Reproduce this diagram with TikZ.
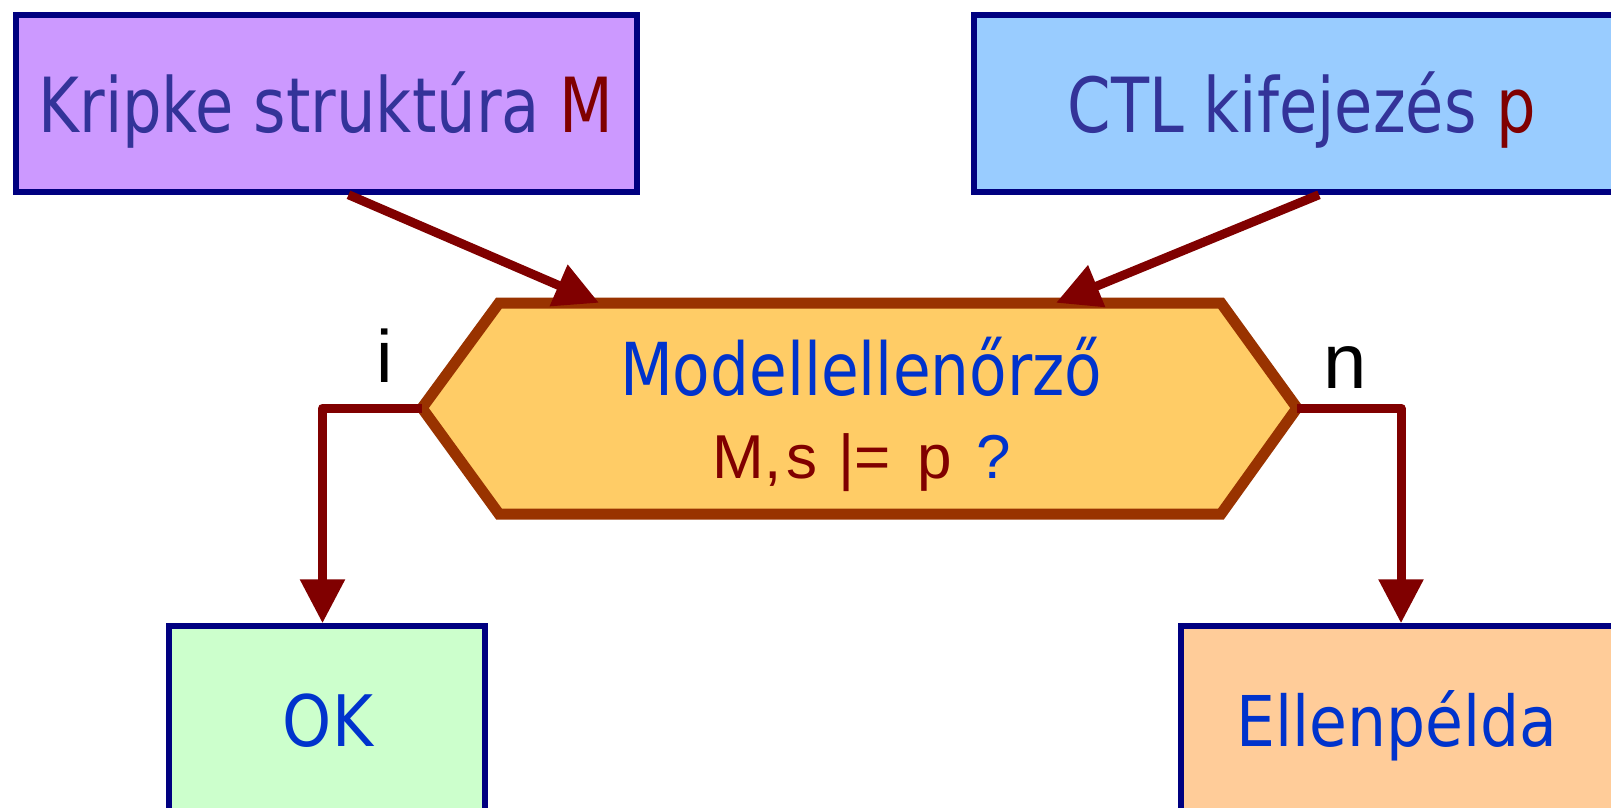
\documentclass[tikz,border=0pt]{standalone}
\usepackage{fontspec}
\newfontfamily\tah[FakeStretch=0.88]{DejaVu Sans}
\newfontfamily\tahtop[FakeStretch=0.82]{DejaVu Sans}
\newfontfamily\tahmid[FakeStretch=0.84]{DejaVu Sans}
\newfontfamily\ari{Liberation Sans}
\usetikzlibrary{arrows.meta}
\definecolor{boxline}{HTML}{000080}
\definecolor{arrowred}{HTML}{800000}
\definecolor{hexline}{HTML}{993300}
\definecolor{hexfill}{HTML}{FFCC66}
\definecolor{lilac}{HTML}{CC99FF}
\definecolor{skyblue}{HTML}{99CCFF}
\definecolor{mint}{HTML}{CCFFCC}
\definecolor{peach}{HTML}{FFCC99}
\definecolor{textnavy}{HTML}{333399}
\definecolor{textblue}{HTML}{0033CC}
\begin{document}
\begin{tikzpicture}[x=1pt,y=-1pt,
  boxnode/.style={draw=boxline,line width=5.5pt,inner sep=0pt,rectangle},
  conn/.style={draw=arrowred,line width=9pt,line join=round,
    -{Triangle[length=44pt,width=43pt]}},
  lbl/.style={inner sep=0pt,anchor=base}]
\useasboundingbox (0,0) rectangle (1611,807);
\clip (0,0) rectangle (1611,807);
% boxes
\node[boxnode,fill=lilac,minimum width=621pt,minimum height=177pt] (krip) at (326.5,103.5) {};
\node[boxnode,fill=skyblue,minimum width=651pt,minimum height=177pt] (ctl) at (1299.5,103.5) {};
\node[boxnode,fill=mint,minimum width=316pt,minimum height=189pt] (ok) at (327,720.5) {};
\node[boxnode,fill=peach,minimum width=444pt,minimum height=189pt] (ell) at (1403,720.5) {};
% hexagon
\coordinate (hexL) at (422,408);
\coordinate (hexR) at (1297,408);
\draw[draw=hexline,fill=hexfill,line width=11pt,line join=miter]
  (hexL) -- (499,303) -- (1221,303) -- (hexR) -- (1221,514) -- (499,514) -- cycle;
\node[inner sep=0pt,minimum width=722pt,minimum height=211pt] (hex) at (860,408.5) {};
% texts
\node[lbl] (kt) at (326,132.5) {\tahtop\fontsize{76}{80}\selectfont\color{textnavy}Kripke struktúra \textcolor{arrowred}{M}};
\node[lbl] (ct) at (1302,132.5) {\tahtop\fontsize{76}{80}\selectfont\color{textnavy}CTL kifejezés \textcolor{arrowred}{p}};
\node[lbl] (mt) at (861,395) {\tahmid\fontsize{73}{78}\selectfont\color{textblue}Modellellenőrző};
\node[lbl] (ms) at (862,478) {\ari\fontsize{62}{66}\selectfont\color{arrowred}M,\hspace{5pt}s\hspace{4pt} |=\hspace{9pt} p\hspace{8pt} \textcolor{textblue}{?}};
\node[lbl] (okt) at (328,746) {\tah\fontsize{71}{74}\selectfont\color{textblue}OK};
\node[lbl] (elt) at (1397,746) {\tah\fontsize{70}{74}\selectfont\color{textblue}Ellenpélda};
\node[lbl] (li) at (385,382) {\ari\fontsize{74}{78}\selectfont i};
\node[lbl] (ln) at (1345,388) {\ari\fontsize{78}{82}\selectfont n};
% connectors
\draw[conn] ([xshift=22pt]krip.south) -- ([xshift=-261pt]hex.north);
\draw[conn] ([xshift=19.5pt]ctl.south) -- ([xshift=196pt]hex.north);
\draw[conn] (hexL) -| ([xshift=-4.5pt]ok.north);
\draw[conn] (hexR) -| ([xshift=-2pt]ell.north);
\end{tikzpicture}
\end{document}
